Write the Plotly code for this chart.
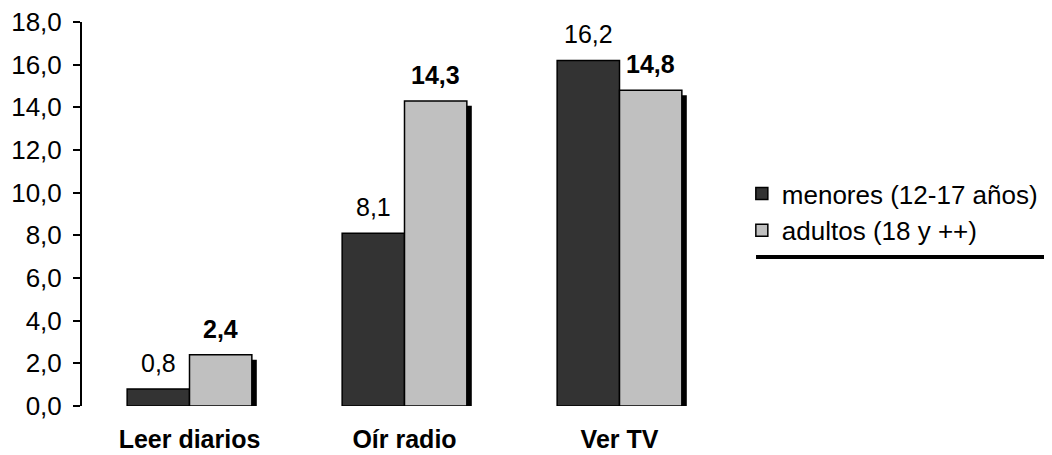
import plotly.graph_objects as go

categories = ["Leer diarios", "Oír radio", "Ver TV"]
menores = [0.8, 8.1, 16.2]
adultos = [2.4, 14.3, 14.8]
series_names = ["menores (12-17 años)", "adultos (18 y ++)"]
y_ticks = [0, 2, 4, 6, 8, 10, 12, 14, 16, 18]

FONT = "Liberation Sans, Arial, sans-serif"
DARK = "#333333"
LIGHT = "#c0c0c0"
BAR_W = 0.29          # bar width in category units
SHADOW_DX = 0.023     # shadow offset right (category units)
SHADOW_DY = 0.23      # shadow offset down (data units)

fig = go.Figure()

fig.add_trace(go.Bar(
    x=categories, y=menores, name=series_names[0],
    width=BAR_W, offset=-BAR_W,
    marker=dict(color=DARK, line=dict(color="black", width=1.5)),
    legendgroup="a", hoverinfo="skip",
))
# drop shadow for the light series
fig.add_trace(go.Bar(
    x=categories, y=[v - SHADOW_DY for v in adultos],
    width=BAR_W, offset=SHADOW_DX,
    marker=dict(color="black", line=dict(width=0)),
    showlegend=False, hoverinfo="skip",
))
fig.add_trace(go.Bar(
    x=categories, y=adultos, name=series_names[1],
    width=BAR_W, offset=0,
    marker=dict(color=LIGHT, line=dict(color="black", width=1.5)),
    legendgroup="b", hoverinfo="skip",
))

annotations = []
for cat, v in zip(categories, menores):
    annotations.append(dict(
        x=cat, y=v, xref="x", yref="y", text=f"{v:.1f}".replace(".", ","),
        showarrow=False, xshift=-31, yshift=26, yanchor="middle",
        font=dict(size=25, color="black", family=FONT)))
for cat, v in zip(categories, adultos):
    annotations.append(dict(
        x=cat, y=v, xref="x", yref="y", text="<b>" + f"{v:.1f}".replace(".", ",") + "</b>",
        showarrow=False, xshift=31, yshift=26, yanchor="middle",
        font=dict(size=25, color="black", family=FONT)))

# page body adds an 8px margin, so the figure is 8px smaller each way
fig.update_layout(
    width=1044, height=447,
    margin=dict(l=74, r=325, t=14, b=49, autoexpand=False),
    paper_bgcolor="white", plot_bgcolor="white",
    barmode="overlay",
    separators=",.",
    font=dict(family=FONT, size=25, color="black"),
    showlegend=True,
    legend=dict(
        x=1.023, y=0.505, xanchor="left", yanchor="middle",
        font=dict(size=26, family=FONT), traceorder="normal",
        tracegroupgap=2, itemwidth=30,
        bgcolor="rgba(0,0,0,0)",
    ),
    annotations=annotations,
    shapes=[dict(type="line", xref="paper", yref="paper",
                 x0=1.045, x1=1.501, y0=0.388, y1=0.388,
                 line=dict(color="black", width=4))],
)

fig.update_xaxes(
    showline=False, showgrid=False, zeroline=False, ticks="",
    automargin=False, ticklabeloverflow="allow",
    tickfont=dict(size=25, family=FONT), ticklabelstandoff=16,
    tickprefix="<b>", ticksuffix="</b>",
)
fig.update_yaxes(
    range=[0, 18], tickvals=y_ticks, tickformat=".1f",
    automargin=False, ticklabeloverflow="allow",
    showline=True, linecolor="black", linewidth=2,
    ticks="outside", ticklen=7, tickwidth=2, tickcolor="black",
    showgrid=False, zeroline=False,
    tickfont=dict(size=26, family=FONT), ticklabelstandoff=6,
)

fig.write_html("out.html")
